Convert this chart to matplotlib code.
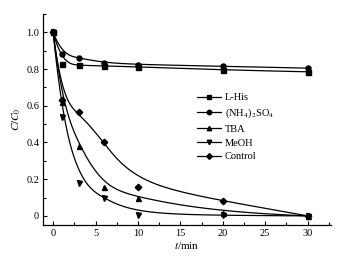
import numpy as np
import matplotlib
matplotlib.use("Agg")
import matplotlib.pyplot as plt

plt.rcParams['font.family'] = ['Liberation Serif', 'DejaVu Serif']
plt.rcParams['mathtext.fontset'] = 'stix'

t = [0, 1, 3, 6, 10, 20, 30]
lhis = [1.0, 0.83, 0.82, 0.817, 0.812, 0.795, 0.785]
nh4 = [1.0, 0.88, 0.86, 0.835, 0.824, 0.815, 0.805]
tba = [1.0, 0.62, 0.38, 0.16, 0.096, 0.018, 0.0]
meoh = [1.0, 0.54, 0.18, 0.096, 0.005, 0.003, 0.0]
control = [1.0, 0.634, 0.564, 0.40, 0.156, 0.083, 0.0]

labels = ['L-His', r'(NH$_4$)$_2$SO$_4$', 'TBA', 'MeOH', 'Control']
markers = ['s', 'o', '^', 'v', 'D']
series = [lhis, nh4, tba, meoh, control]


def bspline(xs, ys, n=300, k=3):
    P = np.column_stack([xs, ys]).astype(float)
    m = len(P)
    k = min(k, m - 1)
    knots = np.concatenate([np.zeros(k), np.linspace(0, 1, m - k + 1), np.ones(k)])
    u = np.linspace(0, 1, n)
    u[-1] -= 1e-10
    N = np.zeros((n, len(knots) - 1))
    for i in range(len(knots) - 1):
        N[:, i] = ((u >= knots[i]) & (u < knots[i + 1])).astype(float)
    for d in range(1, k + 1):
        Nn = np.zeros((n, len(knots) - 1 - d))
        for i in range(len(knots) - 1 - d):
            a = knots[i + d] - knots[i]
            b = knots[i + d + 1] - knots[i + 1]
            term = np.zeros(n)
            if a > 0:
                term += (u - knots[i]) / a * N[:, i]
            if b > 0:
                term += (knots[i + d + 1] - u) / b * N[:, i + 1]
            Nn[:, i] = term
        N = Nn
    C = N @ P
    return C[:, 0], C[:, 1]


fig = plt.figure(figsize=(3.39, 2.59), dpi=100)
ax = fig.add_axes([0.128, 0.131, 0.847, 0.815])

for ys, mk, lab in zip(series, markers, labels):
    cx, cy = bspline(t, ys)
    ax.plot(cx, cy, color='black', lw=0.9)
    ms = 3.3 if mk == 'D' else 3.6
    ax.plot(t, ys, linestyle='none', marker=mk, color='black', ms=ms)
    ax.plot([], [], color='black', lw=0.9, marker=mk, ms=ms - 0.4, label=lab)

ax.set_xlim(-1.15, 32.7)
ax.set_ylim(-0.05, 1.1)
ax.set_xticks([0, 5, 10, 15, 20, 25, 30])
ax.set_xticks(np.arange(2.5, 33, 5), minor=True)
ax.set_yticks([0, 0.2, 0.4, 0.6, 0.8, 1.0])
ax.set_yticklabels(['0', '0.2', '0.4', '0.6', '0.8', '1.0'])
ax.set_yticks(np.arange(0.1, 1.15, 0.2), minor=True)
ax.spines['top'].set_visible(False)
ax.spines['right'].set_visible(False)
for s in ['left', 'bottom']:
    ax.spines[s].set_linewidth(0.9)
ax.tick_params(which='both', direction='in', labelsize=7.5, width=0.8, pad=3)
ax.tick_params(which='major', length=3)
ax.tick_params(which='minor', length=2)

ax.set_xlabel(r'$t$/min', fontsize=8, labelpad=1)
ax.set_ylabel(r'$C/C_0$', fontsize=8, labelpad=2)

ax.legend(loc='upper left', bbox_to_anchor=(0.535, 0.625), frameon=False,
          fontsize=7.5, handlelength=2.3, handletextpad=0.35,
          labelspacing=0.42, borderpad=0, borderaxespad=0)

fig.savefig('out.png', dpi=100)
